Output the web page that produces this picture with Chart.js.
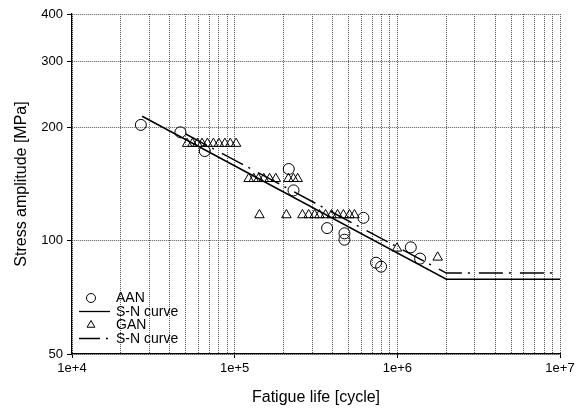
<!DOCTYPE html>
<html>
<head>
<meta charset="utf-8">
<script src="https://cdn.jsdelivr.net/npm/chart.js@4/dist/chart.umd.min.js"></script>
<style>
  html, body { margin: 0; padding: 0; background: #ffffff; }
  canvas { display: block; }
</style>
</head>
<body>
<canvas id="chart" width="582" height="412"></canvas>
<script>
// AAN specimens: fatigue life [cycles] and stress amplitude [MPa]
const aanLife   = [2.65e4, 4.64e4, 6.55e4, 2.15e5, 2.3e5, 3.7e5, 4.73e5, 4.73e5, 6.19e5, 7.4e5, 7.95e5, 1.21e6, 1.38e6];
const aanStress = [203,    194,    173,    155,    136,   108,   104.6,  100.6,  115,    87.4,  85.3,   96,     89.6];

// GAN specimens
const ganLife = [
  5.1e4, 5.5e4, 5.9e4, 6.3e4, 6.8e4, 7.4e4, 8.0e4, 8.7e4, 9.4e4, 1.02e5,
  1.22e5, 1.31e5, 1.40e5, 1.51e5, 1.64e5, 1.79e5, 2.14e5, 2.30e5, 2.44e5,
  1.42e5, 2.08e5, 2.61e5, 2.85e5, 3.10e5, 3.32e5, 3.62e5, 3.94e5, 4.29e5, 4.66e5, 5.08e5, 5.45e5,
  9.95e5, 1.77e6
];
const ganStress = [
  181, 181, 181, 181, 181, 181, 181, 181, 181, 181,
  146, 146, 146, 146, 146, 146, 146, 146, 146,
  117, 117, 117, 117, 117, 117, 117, 117, 117, 117, 117, 117,
  95.4, 90.3
];

// S-N curves (sloped part + fatigue limit)
const snAanLife   = [2.7e4, 2.0e6, 1.0e7];
const snAanStress = [214,   79,    79];
const snGanLife   = [5.0e4, 2.0e6, 1.0e7];
const snGanStress = [192,   82,    82];

// Axis ticks
const xTickValues = [];
for (let e = 4; e <= 6; e++) {
  for (let m = 1; m <= 9; m++) xTickValues.push(m * Math.pow(10, e));
}
xTickValues.push(1e7);
const yTickValues = [50, 100, 200, 300, 400];

const pts = (xs, ys) => xs.map((x, i) => ({ x: x, y: ys[i] }));
const isDecade = (v) => { const e = Math.log10(v); return Math.abs(e - Math.round(e)) < 1e-9; };

const FONT = '"Liberation Sans", Arial, sans-serif';
const dashDot = [24, 6, 2, 9];

// Legend drawn inside the plot area, lower left
const insideLegend = {
  id: 'insideLegend',
  afterDatasetsDraw(chart) {
    const ctx = chart.ctx;
    const rows = [298, 311.5, 325, 338.5];
    const xMid = 91, x0 = 79, x1 = 110, xText = 116;
    ctx.save();
    ctx.font = '14px ' + FONT;
    ctx.textBaseline = 'middle';
    ctx.textAlign = 'left';
    chart.data.datasets.forEach((ds, i) => {
      const y = rows[i];
      ctx.strokeStyle = '#000';
      ctx.lineWidth = 1;
      if (ds.showLine) {
        ctx.beginPath();
        ctx.setLineDash(ds.legendDash || []);
        ctx.lineWidth = 1.3;
        ctx.moveTo(x0, y);
        ctx.lineTo(x1, y);
        ctx.stroke();
        ctx.setLineDash([]);
      } else {
        ctx.fillStyle = 'rgba(0,0,0,0)';
        Chart.helpers.drawPoint(ctx, {
          pointStyle: ds.pointStyle, radius: 4.5, borderWidth: 1, rotation: 0
        }, xMid, y);
      }
      ctx.fillStyle = '#000';
      ctx.fillText(ds.label, xText, y + 0.5);
    });
    ctx.restore();
  }
};

new Chart(document.getElementById('chart'), {
  type: 'scatter',
  data: {
    datasets: [
      {
        label: 'AAN',
        data: pts(aanLife, aanStress),
        pointStyle: 'circle',
        pointRadius: 5.5,
        borderColor: '#000',
        backgroundColor: 'transparent',
        borderWidth: 1,
        showLine: false
      },
      {
        label: 'S-N curve',
        data: pts(snAanLife, snAanStress),
        showLine: true,
        pointRadius: 0,
        borderColor: '#000',
        borderWidth: 1.5,
        backgroundColor: 'transparent'
      },
      {
        label: 'GAN',
        data: pts(ganLife, ganStress),
        pointStyle: 'triangle',
        pointRadius: 5.5,
        borderColor: '#000',
        backgroundColor: 'transparent',
        borderWidth: 1,
        showLine: false
      },
      {
        label: 'S-N curve',
        data: pts(snGanLife, snGanStress),
        showLine: true,
        pointRadius: 0,
        borderColor: '#000',
        borderWidth: 1.5,
        borderDash: dashDot,
        legendDash: [21, 6, 2, 60],
        backgroundColor: 'transparent'
      }
    ]
  },
  options: {
    responsive: false,
    animation: false,
    devicePixelRatio: 1,
    layout: { padding: { top: 14, right: 22, bottom: 0, left: 0 } },
    plugins: {
      legend: { display: false },
      tooltip: { enabled: false }
    },
    scales: {
      x: {
        type: 'logarithmic',
        min: 1e4,
        max: 1e7,
        afterBuildTicks: (scale) => { scale.ticks = xTickValues.map(v => ({ value: v })); },
        afterFit: (scale) => { scale.height = 58; },
        ticks: {
          autoSkip: false,
          maxRotation: 0,
          padding: 3,
          color: '#000',
          font: { family: FONT, size: 13 },
          callback: (v) => isDecade(v) ? '1e+' + Math.round(Math.log10(v)) : ''
        },
        grid: {
          color: '#555',
          lineWidth: 1,
          drawTicks: true,
          tickLength: 4,
          tickColor: (c) => (c.tick && isDecade(c.tick.value)) ? '#000' : 'rgba(0,0,0,0)'
        },
        border: { display: true, color: '#000', width: 1.2, dash: [1, 1] },
        title: {
          display: true,
          text: 'Fatigue life [cycle]',
          color: '#000',
          font: { family: FONT, size: 16 },
          padding: { top: 0, bottom: 5 }
        }
      },
      y: {
        type: 'logarithmic',
        min: 50,
        max: 400,
        afterBuildTicks: (scale) => { scale.ticks = yTickValues.map(v => ({ value: v })); },
        afterFit: (scale) => { scale.width = 72; },
        ticks: {
          padding: 4,
          color: '#000',
          font: { family: FONT, size: 13 },
          callback: (v) => String(v)
        },
        grid: {
          color: '#555',
          lineWidth: 1,
          drawTicks: true,
          tickLength: 5,
          tickColor: '#000'
        },
        border: { display: true, color: '#000', width: 1.2, dash: [1, 1] },
        title: {
          display: true,
          text: 'Stress amplitude [MPa]',
          color: '#000',
          font: { family: FONT, size: 16 },
          padding: { top: 12, bottom: 0 }
        }
      }
    }
  },
  plugins: [insideLegend]
});
</script>
</body>
</html>
